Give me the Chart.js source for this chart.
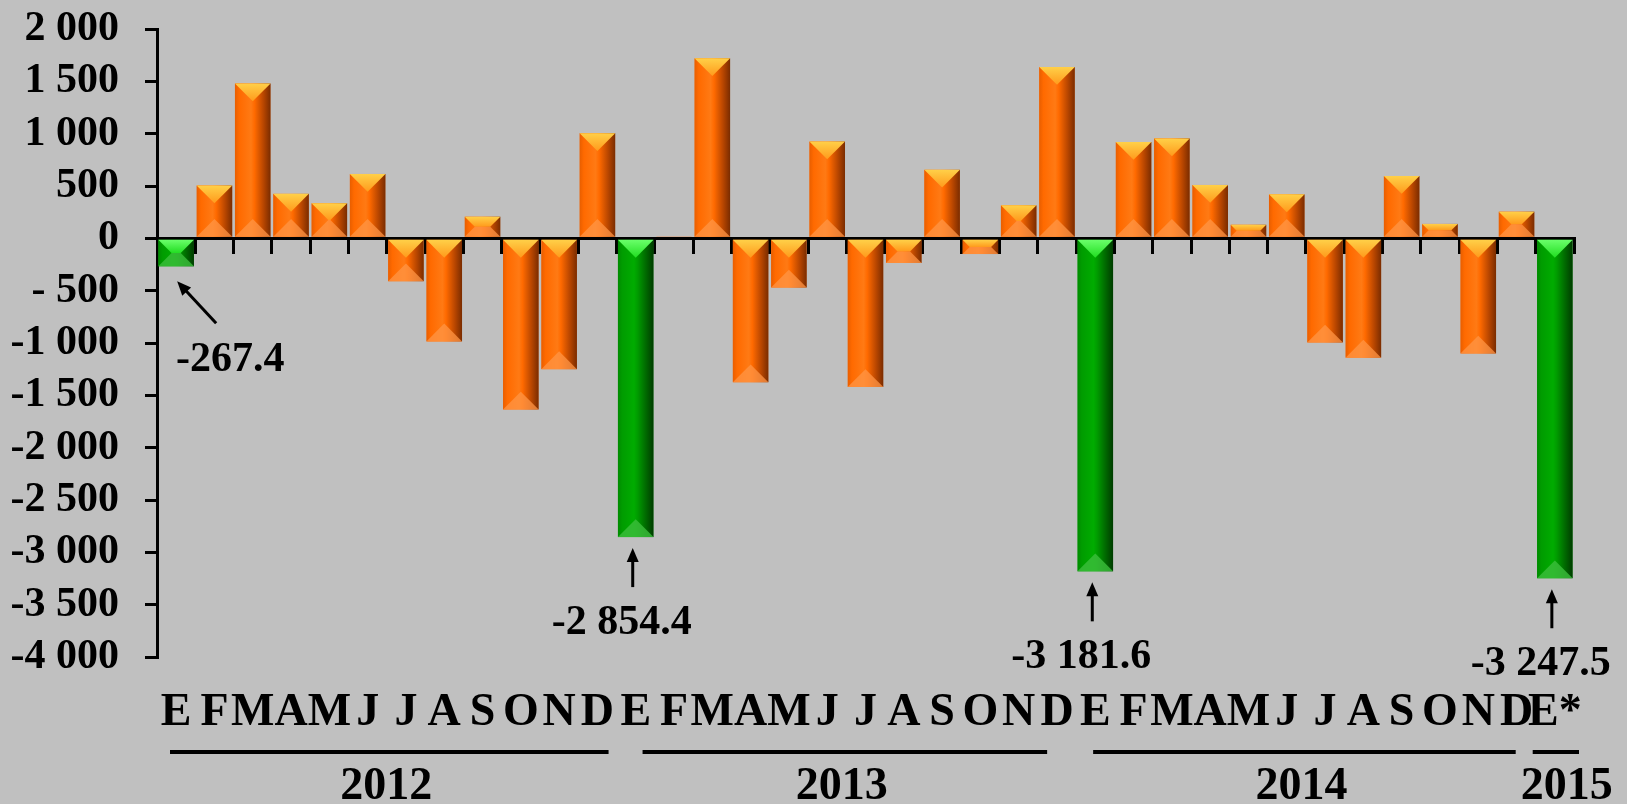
<!DOCTYPE html>
<html>
<head>
<meta charset="utf-8">
<script src="https://cdn.jsdelivr.net/npm/chart.js@4"></script>
<style>
  html, body { margin: 0; padding: 0; background: #c0c0c0; }
  #wrap { width: 1627px; height: 804px; position: relative; }
</style>
</head>
<body>
<div id="wrap"><canvas id="chart"></canvas></div>
<script>
const months = ["E", "F", "M", "A", "M", "J", "J", "A", "S", "O", "N", "D",
  "E", "F", "M", "A", "M", "J", "J", "A", "S", "O", "N", "D",
  "E", "F", "M", "A", "M", "J", "J", "A", "S", "O", "N", "D",
  "E*"];
const values2012 = [-267.4, 505, 1480, 425, 335, 615, -410, -985, 207, -1635, -1250, 1005];
const values2013 = [-2854.4, 20, 1720, -1375, -470, 925, -1420, -235, 655, -150, 315, 1637];
const values2014 = [-3181.6, 920, 955, 510, 130, 420, -995, -1140, 595, 138, -1100, 255];
const values2015 = [-3247.5];
const years = ["2012", "2013", "2014", "2015"];
const yearSpans = [[0, 11], [12, 23], [24, 35], [36, 36]];
const callouts = [0, 12, 24, 36];

const values = [...values2012, ...values2013, ...values2014, ...values2015];
const FONT = "'Liberation Serif', 'Times New Roman', serif";

function isJan(i) {
  return i % 12 === 0;
}

function fmtAxis(v) {
  const a = Math.abs(v);
  let s = a >= 1000 ? Math.floor(a / 1000) + " " + String(a % 1000).padStart(3, "0") : String(a);
  if (v < 0) return (a < 1000 ? "- " : "-") + s;
  return s;
}

function fmtValue(v) {
  const a = Math.abs(v);
  const whole = Math.floor(a);
  const dec = Math.round((a - whole) * 10);
  let s = whole >= 1000 ? Math.floor(whole / 1000) + " " + String(whole % 1000).padStart(3, "0") : String(whole);
  return (v < 0 ? "-" : "") + s + "." + dec;
}

const orange = { face: "#ff6a00", light: "#ff7a14", left: "#e85e00", right: "#b84600", edge: "#7a2c00",
  top1: "#ffd048", top2: "#ff9a1c", bottom: "rgba(255,150,70,0.75)" };
const green = { face: "#009c00", light: "#00ac00", left: "#008a00", right: "#006600", edge: "#003c00",
  top1: "#6aff6a", top2: "#22dd22", bottom: "rgba(60,190,60,0.8)" };

const background = {
  id: "background",
  beforeDraw(chart) {
    const ctx = chart.ctx;
    ctx.save();
    ctx.fillStyle = "#c0c0c0";
    ctx.fillRect(0, 0, chart.width, chart.height);
    ctx.restore();
  },
};

// bevelled look of the bars, drawn over each bar element
const bevel = {
  id: "bevel",
  afterDatasetsDraw(chart) {
    const ctx = chart.ctx;
    chart.getDatasetMeta(0).data.forEach((bar, i) => {
      const { x, y, base, width } = bar.getProps(["x", "y", "base", "width"], true);
      const pal = isJan(i) ? green : orange;
      const left = x - width / 2;
      const right = x + width / 2;
      const top = Math.min(y, base);
      const bottom = Math.max(y, base);
      const h = bottom - top;
      if (h < 1) return;
      ctx.save();
      const g = ctx.createLinearGradient(left, 0, right, 0);
      g.addColorStop(0, pal.left);
      g.addColorStop(0.12, pal.face);
      g.addColorStop(0.45, pal.light);
      g.addColorStop(0.55, pal.face);
      g.addColorStop(0.8, pal.right);
      g.addColorStop(1, pal.edge);
      ctx.fillStyle = g;
      ctx.fillRect(left, top, width, h);
      const d = Math.min(width / 2, h / 2);
      const tg = ctx.createLinearGradient(0, top, 0, top + d);
      tg.addColorStop(0, pal.top1);
      tg.addColorStop(1, pal.top2);
      ctx.fillStyle = tg;
      ctx.beginPath();
      ctx.moveTo(left, top);
      ctx.lineTo(right, top);
      ctx.lineTo(right - d, top + d);
      ctx.lineTo(left + d, top + d);
      ctx.closePath();
      ctx.fill();
      ctx.fillStyle = pal.bottom;
      ctx.beginPath();
      ctx.moveTo(left, bottom);
      ctx.lineTo(right, bottom);
      ctx.lineTo(right - d, bottom - d);
      ctx.lineTo(left + d, bottom - d);
      ctx.closePath();
      ctx.fill();
      ctx.restore();
    });
  },
};

function arrow(ctx, x1, y1, x2, y2) {
  const ang = Math.atan2(y2 - y1, x2 - x1);
  const head = 14;
  ctx.beginPath();
  ctx.moveTo(x1, y1);
  ctx.lineTo(x2 - Math.cos(ang) * head * 0.8, y2 - Math.sin(ang) * head * 0.8);
  ctx.stroke();
  ctx.beginPath();
  ctx.moveTo(x2, y2);
  ctx.lineTo(x2 - head * Math.cos(ang) + 6 * Math.sin(ang), y2 - head * Math.sin(ang) - 6 * Math.cos(ang));
  ctx.lineTo(x2 - head * Math.cos(ang) - 6 * Math.sin(ang), y2 - head * Math.sin(ang) + 6 * Math.cos(ang));
  ctx.closePath();
  ctx.fill();
}

const annotations = {
  id: "annotations",
  afterDraw(chart, args, opts) {
    const ctx = chart.ctx;
    const meta = chart.getDatasetMeta(0);
    const xs = chart.scales.x;
    ctx.save();
    ctx.fillStyle = "#000";
    ctx.strokeStyle = "#000";
    ctx.lineWidth = 3;

    // value call-outs under the January bars
    ctx.font = "bold 42px " + FONT;
    ctx.textAlign = "center";
    ctx.textBaseline = "middle";
    callouts.forEach((i, n) => {
      const bar = meta.data[i];
      const { x, y } = bar.getProps(["x", "y"], true);
      if (n === 0) {
        arrow(ctx, x + 40, y + 57, x + 1, y + 15);
        ctx.fillText(fmtValue(values[i]), x + 54, y + 94);
      } else {
        arrow(ctx, x - 3, y + 50, x - 3, y + 11);
        ctx.fillText(fmtValue(values[i]), x - 14, y + 86);
      }
    });

    // year brackets under the month labels
    const w = xs.width / months.length;
    ctx.font = "bold 46px " + FONT;
    ctx.textBaseline = "alphabetic";
    ctx.lineWidth = 4;
    yearSpans.forEach(([a, b], n) => {
      const [inL, inR] = opts.insets[n];
      const x1 = xs.getPixelForValue(a) - w / 2 + inL;
      const x2 = xs.getPixelForValue(b) + w / 2 - inR;
      ctx.beginPath();
      ctx.moveTo(x1, 752);
      ctx.lineTo(x2, 752);
      ctx.stroke();
      ctx.fillText(years[n], (x1 + x2) / 2 + (a === b ? 11 : -3), 799);
    });
    ctx.restore();
  },
};

new Chart(document.getElementById("chart"), {
  type: "bar",
  data: {
    labels: months,
    datasets: [{
      data: values,
      backgroundColor: values.map((v, i) => (isJan(i) ? "#009c00" : "#ff6a00")),
      borderColor: values.map((v, i) => (isJan(i) ? "#33cc33" : "#ff8a3a")),
      borderWidth: 1,
      barPercentage: 0.93,
      categoryPercentage: 1,
    }],
  },
  options: {
    responsive: true,
    maintainAspectRatio: false,
    devicePixelRatio: 1,
    animation: false,
    layout: { padding: { top: 29, right: 53, left: 0, bottom: 0 } },
    plugins: {
      legend: { display: false },
      tooltip: { enabled: false },
      annotations: { insets: [[13, 8], [26, 29], [17, 20], [-3, -5]] },
    },
    scales: {
      y: {
        min: -4000,
        max: 2000,
        afterFit(scale) {
          scale.width = 157;
          scale.paddingTop = 0;
          scale.paddingBottom = 0;
        },
        ticks: {
          stepSize: 500,
          autoSkip: false,
          color: "#000",
          padding: 26,
          font: { family: FONT, size: 42, weight: "bold" },
          callback: (v) => fmtAxis(v),
        },
        grid: { drawOnChartArea: false, color: "#000", lineWidth: 3, tickLength: 12 },
        border: { color: "#000", width: 3 },
      },
      x: {
        position: { y: 0 },
        offset: true,
        ticks: { display: false },
        grid: { offset: true, drawOnChartArea: false, color: "#000", lineWidth: 3, tickLength: 14 },
        border: { color: "#000", width: 3 },
      },
      months: {
        type: "category",
        position: "bottom",
        offset: true,
        afterFit(scale) {
          scale.height = 147;
          scale.paddingLeft = 0;
          scale.paddingRight = 0;
        },
        ticks: {
          color: "#000",
          autoSkip: false,
          maxRotation: 0,
          minRotation: 0,
          padding: 21,
          font: { family: FONT, size: 46, weight: "bold" },
        },
        grid: { display: false },
        border: { display: false },
      },
    },
  },
  plugins: [background, bevel, annotations],
});
</script>
</body>
</html>
